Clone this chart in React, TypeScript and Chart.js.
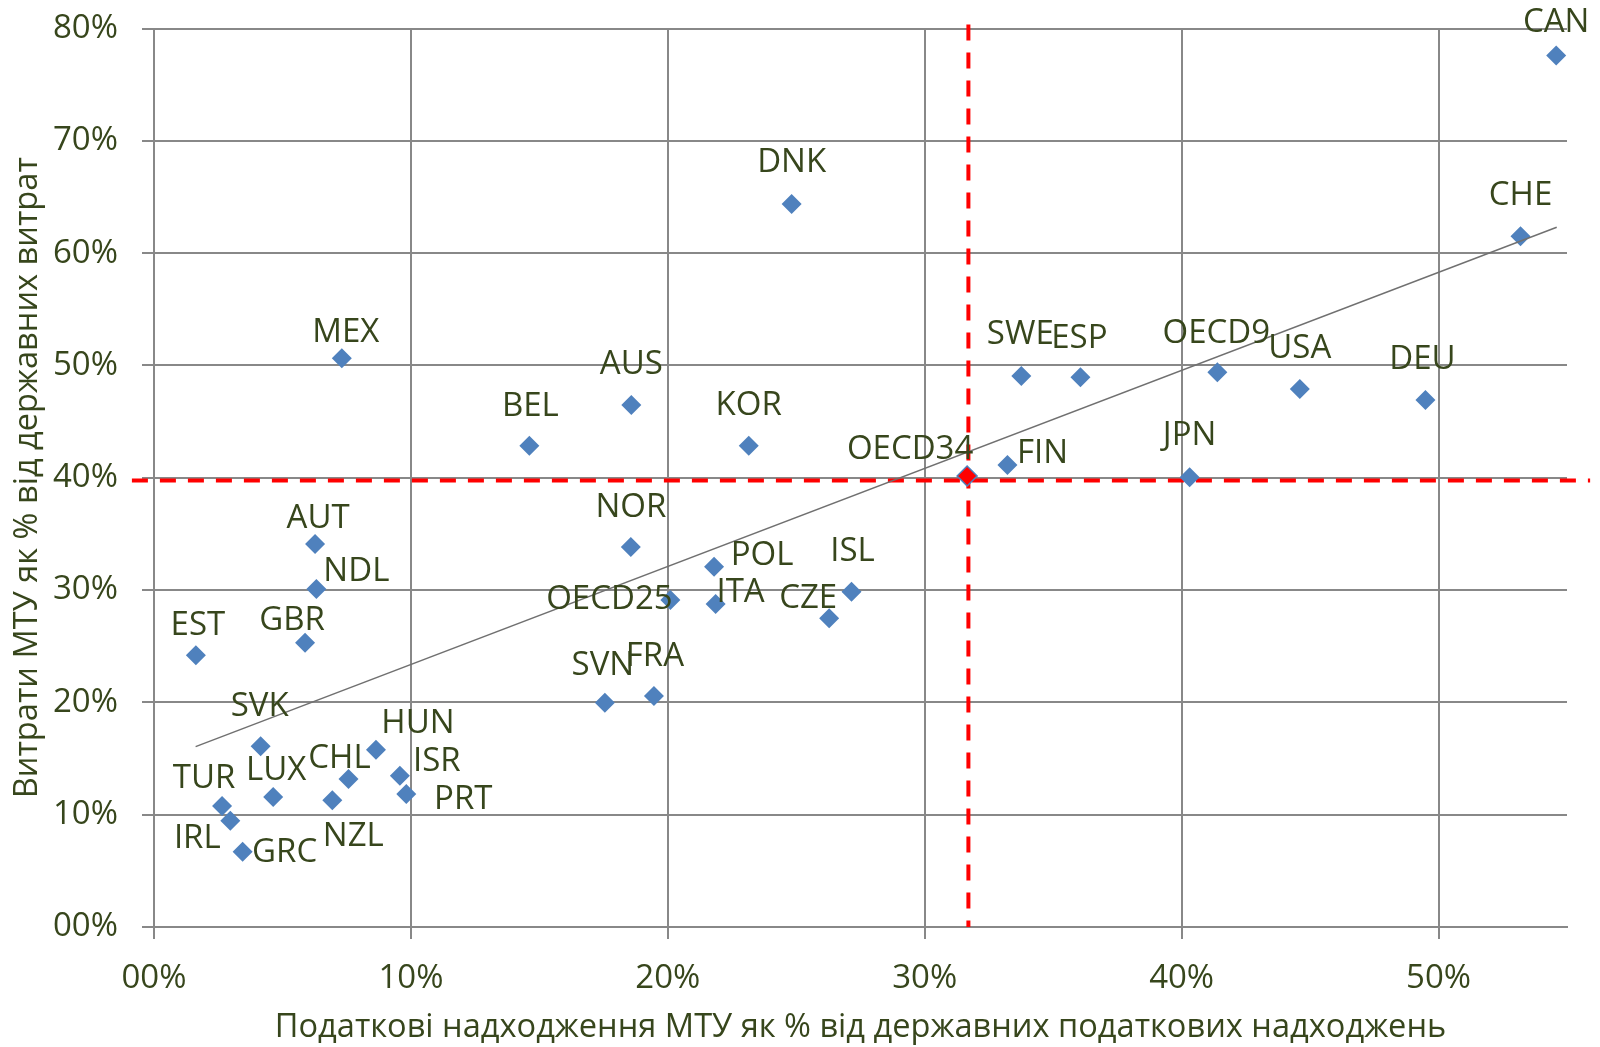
import React, { useEffect, useRef } from 'react';
import { Chart, registerables } from 'chart.js';

Chart.register(...registerables);

// ---- Data ----
const countries = [
  'CAN', 'CHE', 'DNK', 'MEX', 'SWE', 'ESP', 'OECD9', 'USA', 'DEU', 'AUS',
  'BEL', 'KOR', 'OECD34', 'FIN', 'JPN', 'NOR', 'AUT', 'NDL', 'POL', 'ISL',
  'OECD25', 'ITA', 'CZE', 'GBR', 'EST', 'SVN', 'FRA', 'SVK', 'HUN', 'CHL',
  'ISR', 'PRT', 'LUX', 'NZL', 'TUR', 'IRL', 'GRC',
];

// X: local-government tax revenue as % of general-government tax revenue
const taxShare = [
  0.5458, 0.5319, 0.2482, 0.0731, 0.3376, 0.3606, 0.4139, 0.4460, 0.4949, 0.1858,
  0.1461, 0.2315, 0.3165, 0.3322, 0.4031, 0.1856, 0.0627, 0.0632, 0.2180, 0.2715,
  0.2010, 0.2186, 0.2628, 0.0588, 0.0163, 0.1755, 0.1946, 0.0415, 0.0864, 0.0757,
  0.0957, 0.0982, 0.0464, 0.0694, 0.0265, 0.0297, 0.0345,
];

// Y: local-government spending as % of general-government spending
const spendShare = [
  0.7759, 0.6150, 0.6437, 0.5065, 0.4907, 0.4895, 0.4939, 0.4790, 0.4693, 0.4647,
  0.4284, 0.4284, 0.4016, 0.4114, 0.4004, 0.3384, 0.3410, 0.3010, 0.3208, 0.2986,
  0.2912, 0.2876, 0.2749, 0.2530, 0.2420, 0.1997, 0.2057, 0.1610, 0.1579, 0.1318,
  0.1347, 0.1184, 0.1158, 0.1128, 0.1077, 0.0947, 0.0671,
];

// Linear trendline end points (as drawn in the reference)
const trendX = [0.0162, 0.546];
const trendY = [0.1606, 0.623];

// Reference lines (OECD averages)
const avgSpendLineX = [-0.0086, 0.559];
const avgSpendLineY = [0.3975, 0.3975];
const avgTaxLineX = [0.317, 0.317];
const avgTaxLineY = [0.8035, 0];

const xTickLabels = ['00%', '10%', '20%', '30%', '40%', '50%'];
const yTickLabels = ['00%', '10%', '20%', '30%', '40%', '50%', '60%', '70%', '80%'];

const xTitle = 'Податкові надходження МТУ як % від державних податкових надходжень';
const yTitle = 'Витрати МТУ як % від державних витрат';

// ---- Label placement (pixel offsets from each marker) ----
const labelDx = [
  0, 0, 0, 4, -1, -1, -1, 0, -3, 0,
  1, 0, -57, 35, 0, 0, 3, 40, 48, 1,
  -61, 25, -21, -13, 2, -2, 1, -1, 42, -9,
  37, 57, 3, 21, -18, -33, 42,
];
const labelDy = [
  -35, -43, -43, -28, -43, -41, -41, -42, -42, -42,
  -41, -42, -28, -13, -44, -41, -27, -19, -13, -42,
  -2, -13, -22, -24, -32, -39, -41, -42, -28, -22,
  -16, 4, -28, 34, -29, 16, -1,
];

// ---- Styles ----
const FONT = "'Open Sans', 'DejaVu Sans', sans-serif";
const FONT_SIZE = 33;
const TITLE_SIZE = 32.6;
const TEXT_COLOR = '#37461C';
const GRID_COLOR = '#888888';
const POINT_COLOR = '#4F81BD';
const REF_COLOR = '#FF0000';
const TREND_COLOR = '#707070';

const pointLabelPlugin = {
  id: 'pointLabels',
  afterDatasetsDraw(chart: any) {
    const meta = chart.getDatasetMeta(0);
    const ctx = chart.ctx;
    ctx.save();
    ctx.font = `${FONT_SIZE}px ${FONT}`;
    ctx.fillStyle = TEXT_COLOR;
    ctx.textAlign = 'center';
    ctx.textBaseline = 'middle';
    meta.data.forEach((el: any, i: number) => {
      ctx.fillText(countries[i], el.x + labelDx[i], el.y + labelDy[i] + 2);
    });
    ctx.restore();
  },
};

export default function App() {
  const canvasRef = useRef<HTMLCanvasElement | null>(null);

  useEffect(() => {
    if (!canvasRef.current) return;
    const chart = new Chart(canvasRef.current, {
      type: 'scatter',
      data: {
        datasets: [
          {
            label: 'countries',
            data: countries.map((_, i) => ({ x: taxShare[i], y: spendShare[i] })),
            pointStyle: 'rectRot',
            pointRadius: 10,
            backgroundColor: countries.map((c) => (c === 'OECD34' ? REF_COLOR : POINT_COLOR)),
            borderColor: POINT_COLOR,
            borderWidth: countries.map((c) => (c === 'OECD34' ? 1.5 : 0)),
            showLine: false,
            order: 1,
          } as any,
          {
            label: 'trend',
            data: trendX.map((x, i) => ({ x, y: trendY[i] })),
            showLine: true,
            borderColor: TREND_COLOR,
            borderWidth: 1.5,
            pointRadius: 0,
            order: 0,
          },
          {
            label: 'avgSpend',
            data: avgSpendLineX.map((x, i) => ({ x, y: avgSpendLineY[i] })),
            showLine: true,
            borderColor: REF_COLOR,
            borderWidth: 4,
            borderDash: [16, 12],
            pointRadius: 0,
            clip: false,
            order: 2,
          } as any,
          {
            label: 'avgTax',
            data: avgTaxLineX.map((x, i) => ({ x, y: avgTaxLineY[i] })),
            showLine: true,
            borderColor: REF_COLOR,
            borderWidth: 4,
            borderDash: [16, 12],
            pointRadius: 0,
            clip: false,
            order: 2,
          } as any,
        ],
      },
      options: {
        animation: false,
        responsive: false,
        events: [],
        layout: { padding: { top: 28.5, right: 33, left: 0, bottom: 0 } },
        plugins: {
          legend: { display: false },
          tooltip: { enabled: false },
        },
        scales: {
          x: {
            type: 'linear',
            min: 0,
            max: 0.55,
            afterFit: (s: any) => {
              s.height = 120;
            },
            ticks: {
              stepSize: 0.1,
              includeBounds: false,
              padding: 20,
              color: TEXT_COLOR,
              font: { family: FONT, size: FONT_SIZE },
              callback: (v: any) => xTickLabels[Math.round(Number(v) * 10)] ?? '',
            },
            grid: {
              color: GRID_COLOR,
              lineWidth: 2,
              drawTicks: true,
              tickLength: 12,
              tickColor: GRID_COLOR,
            },
            border: { display: true, color: GRID_COLOR, width: 2 },
            title: {
              display: true,
              text: xTitle,
              color: TEXT_COLOR,
              font: { family: FONT, size: TITLE_SIZE },
              padding: { top: 0, bottom: 0 },
            },
          },
          y: {
            type: 'linear',
            min: 0,
            max: 0.8,
            afterFit: (s: any) => {
              s.width = 154;
              s.paddingTop = 0;
              s.paddingBottom = 0;
            },
            ticks: {
              stepSize: 0.1,
              padding: 24,
              color: TEXT_COLOR,
              font: { family: FONT, size: FONT_SIZE },
              callback: (v: any) => yTickLabels[Math.round(Number(v) * 10)] ?? '',
            },
            grid: {
              color: GRID_COLOR,
              lineWidth: 2,
              drawTicks: true,
              tickLength: 12,
              tickColor: GRID_COLOR,
            },
            border: { display: true, color: GRID_COLOR, width: 2 },
            title: {
              display: true,
              text: yTitle,
              color: TEXT_COLOR,
              font: { family: FONT, size: TITLE_SIZE },
              padding: { top: 8, bottom: 0 },
            },
          },
        },
      } as any,
      plugins: [pointLabelPlugin],
    });
    return () => chart.destroy();
  }, []);

  return (
    <div style={{ position: 'fixed', left: 0, top: 0, width: 1600, height: 1047, background: '#ffffff' }}>
      <canvas ref={canvasRef} width={1600} height={1047} style={{ display: 'block' }} />
    </div>
  );
}
